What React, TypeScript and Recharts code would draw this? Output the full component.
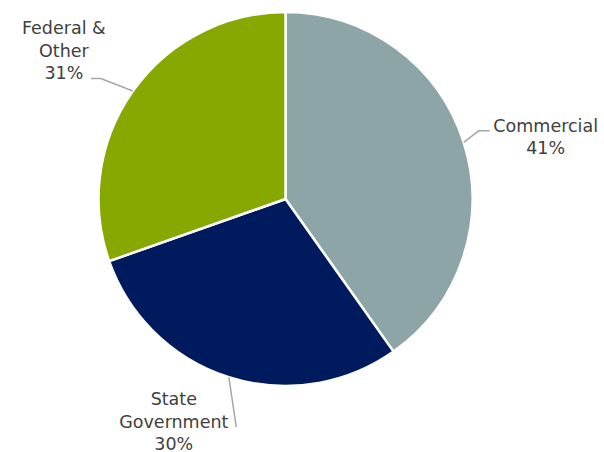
import React from "react";
import { PieChart, Pie, Cell } from "recharts";

const categories = ["Commercial", "State Government", "Federal & Other"];
const values = [41, 30, 31];
const percentLabels = ["41%", "30%", "31%"];
const labelLines = [["Commercial"], ["State", "Government"], ["Federal &", "Other"]];

const colors = ["#8EA5A8", "#001A5E", "#86A800"];

// label layout offsets relative to the slice edge point (style only)
const labelLayout = [
  { path: [[15, -11.5], [26, -11.5]], text: [82, -10.5] },
  { path: [[7.5, 50]], text: [-55, 28] },
  { path: [[-32, -12.5], [-42, -12.5]], text: [-69, -56.5] },
];

const data = categories.map((c, i) => ({ name: c, value: values[i] }));

const RAD = Math.PI / 180;

const renderLabel = (props: any) => {
  const { cx, cy, midAngle, outerRadius, index } = props;
  const ex = cx + outerRadius * Math.cos(-midAngle * RAD);
  const ey = cy + outerRadius * Math.sin(-midAngle * RAD);
  const lay = labelLayout[index];
  const pts = [[ex, ey], ...lay.path.map(([dx, dy]) => [ex + dx, ey + dy])];
  const tx = ex + lay.text[0];
  const ty = ey + lay.text[1];
  const lines = [...labelLines[index], percentLabels[index]];
  return (
    <g>
      <polyline
        points={pts.map((p) => p.join(",")).join(" ")}
        fill="none"
        stroke="#A6A6A6"
        strokeWidth={1.5}
      />
      <text
        x={tx}
        y={ty}
        textAnchor="middle"
        fill="#404040"
        fontFamily="DejaVu Sans, Verdana, sans-serif"
        fontSize={17.5}
      >
        {lines.map((l, i) => (
          <tspan key={i} x={tx} dy={i === 0 ? 0 : 22.3}>
            {l}
          </tspan>
        ))}
      </text>
    </g>
  );
};

export default function App() {
  return (
    <div style={{ position: "absolute", left: 0, top: 0, background: "#fff" }}>
      <PieChart width={604} height={452} margin={{ top: 0, right: 0, bottom: 0, left: 0 }}>
        <Pie
          data={data}
          dataKey="value"
          nameKey="name"
          cx={285.5}
          cy={199}
          outerRadius={187}
          startAngle={90}
          endAngle={-270}
          stroke="#ffffff"
          strokeWidth={2.5}
          label={renderLabel}
          labelLine={false}
          isAnimationActive={false}
        >
          {data.map((d, i) => (
            <Cell key={d.name} fill={colors[i]} />
          ))}
        </Pie>
      </PieChart>
    </div>
  );
}
